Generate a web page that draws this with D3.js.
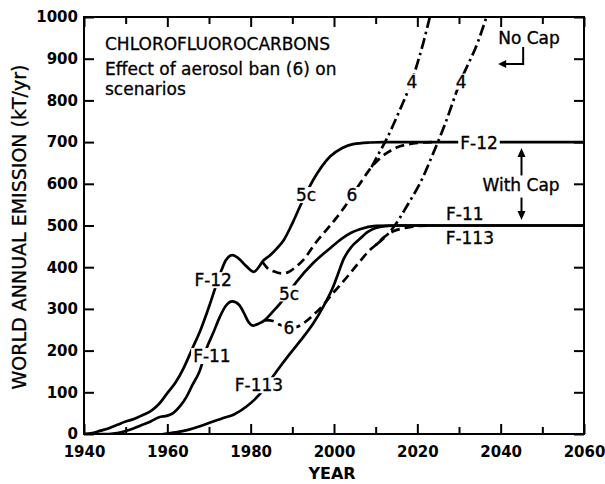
<!DOCTYPE html>
<html>
<head>
<meta charset="utf-8">
<script src="https://cdn.jsdelivr.net/npm/d3@7"></script>
<style>
  html, body { margin: 0; padding: 0; background: #fff; }
  svg { display: block; }
  text { font-family: "DejaVu Sans", "Liberation Sans", sans-serif; fill: #000; }
</style>
</head>
<body>
<svg id="chart" width="605" height="484"></svg>
<script>
// ---- Data: world annual emission, kT/yr, as [year, value] ----

// Scenario 5c, emissions capped (solid)
const f12Capped = [
  [1940, 0], [1942, 2], [1944, 8], [1946, 14], [1948, 22], [1950, 30], [1952, 36],
  [1954, 45], [1956, 55], [1958, 72], [1960, 98], [1962, 124], [1964, 160],
  [1966, 205], [1968, 250], [1970, 305], [1972, 365], [1973, 393], [1974, 416],
  [1975.6, 429], [1977, 422], [1979, 402], [1980.8, 389], [1982, 401], [1982.8, 413],
  [1984.6, 428], [1986.2, 444], [1988, 466], [1990, 505], [1991.8, 545], [1995, 609],
  [1999, 665], [2002, 686], [2004.6, 695], [2008.6, 699], [2012, 700], [2060, 700]
];
const f11Capped = [
  [1940, 0], [1946, 0], [1948, 2], [1950, 7], [1952, 14], [1954, 22], [1956, 30],
  [1958, 40], [1960, 44], [1961.4, 50], [1963, 66], [1964.6, 89], [1966, 117],
  [1967.8, 152], [1969.4, 205], [1971, 242], [1972.6, 281], [1974, 307], [1975.6, 318],
  [1977.2, 310], [1978.4, 290], [1979.4, 270], [1980.6, 260], [1982, 265], [1983.4, 273],
  [1985, 290], [1987, 312], [1989, 338], [1991, 365], [1995, 410], [1999, 445],
  [2001.8, 468], [2004, 482], [2006.2, 491], [2010, 499], [2014, 500], [2060, 500]
];
const f113Capped = [
  [1959, 0], [1962, 4], [1965, 10], [1968, 19], [1971, 30], [1974, 40], [1976, 47],
  [1979, 66], [1981, 83], [1983, 105], [1986.2, 150], [1989.4, 192], [1991.8, 222],
  [1995, 265], [1997.4, 305], [1999.8, 353], [2001, 385], [2002.2, 417], [2004.2, 449],
  [2006.2, 468], [2008, 484], [2010, 494], [2013, 499], [2016, 500], [2060, 500]
];

// Scenario 6, aerosol ban with cap (dashed)
const f12Ban = [
  [1982.8, 413], [1984, 398], [1985.5, 390], [1987.5, 385], [1989, 388], [1990.5, 398],
  [1992.6, 417], [1995.8, 461], [1999, 499], [2002, 537], [2004.2, 569], [2006.2, 600],
  [2009, 640], [2011, 661], [2013, 676], [2015, 687], [2017.4, 694], [2020, 698], [2024, 700]
];
const f11Ban = [
  [1983.4, 273], [1985.4, 271], [1987, 262], [1989, 256], [1991, 257], [1993, 268],
  [1995, 285], [1997.4, 309], [1999.5, 335], [2001.4, 356], [2004, 387], [2006.2, 414],
  [2008.5, 440], [2010, 453], [2012, 472], [2014.2, 486], [2017, 494], [2020, 499], [2024, 500]
];

// Scenario 4, no cap (dash-dot)
const f12NoCap = [
  [2009, 640], [2010.6, 670], [2012.4, 703], [2015.8, 777], [2018.6, 845],
  [2021.4, 937], [2023, 1000]
];
const f11NoCap = [
  [2010, 453], [2011.8, 468], [2014.6, 500], [2017.4, 545], [2021.4, 617],
  [2023.8, 673], [2026.6, 742], [2030.2, 842], [2034.6, 942], [2036.6, 1000]
];

// ---- Axes ----
const xMajorTicks = [1940, 1960, 1980, 2000, 2020, 2040, 2060];
const xMinorTicks = [1950, 1970, 1990, 2010, 2030, 2050];
const xTickLabels = ["1940", "1960", "1980", "2000", "2020", "2040", "2060"];
const yTicks = [0, 100, 200, 300, 400, 500, 600, 700, 800, 900, 1000];
const yTickLabels = ["0", "100", "200", "300", "400", "500", "600", "700", "800", "900", "1000"];

// ---- Curve labels (data coordinates) ----
const curveLabels = [
  { text: "F-12",  year: 1971.0, value: 369 },
  { text: "F-11",  year: 1970.7, value: 187 },
  { text: "F-113", year: 1982.0, value: 117 },
  { text: "5c",    year: 1993.3, value: 573 },
  { text: "6",     year: 2004.3, value: 573 },
  { text: "5c",    year: 1989.2, value: 337 },
  { text: "6",     year: 1989.2, value: 255 },
  { text: "4",     year: 2018.7, value: 845 },
  { text: "4",     year: 2030.5, value: 845 },
  { text: "F-12",  year: 2034.8, value: 697 },
  { text: "F-11",  year: 2031.4, value: 528 },
  { text: "F-113", year: 2032.6, value: 471 },
  { text: "With Cap", year: 2044.9, value: 597 },
  { text: "No Cap",   year: 2046.8, value: 951 }
];

const titleLines = ["CHLOROFLUOROCARBONS", "Effect of aerosol ban (6) on", "scenarios"];

// ---- Layout ----
const plot = { left: 84, right: 584, top: 17, bottom: 434 };
const svg = d3.select("#chart");

const x = d3.scaleLinear().domain([1940, 2060]).range([plot.left, plot.right]);
const y = d3.scaleLinear().domain([0, 1000]).range([plot.bottom, plot.top]);

svg.append("defs").append("clipPath").attr("id", "plotClip")
  .append("rect")
  .attr("x", plot.left).attr("y", plot.top)
  .attr("width", plot.right - plot.left).attr("height", plot.bottom - plot.top);

const line = d3.line()
  .x(d => x(d[0]))
  .y(d => y(d[1]))
  .curve(d3.curveMonotoneX);

const curves = svg.append("g").attr("clip-path", "url(#plotClip)")
  .attr("fill", "none").attr("stroke", "#000").attr("stroke-width", 2.7);

const series = [
  { data: f12NoCap, dash: "11,4,2.5,4" },
  { data: f11NoCap, dash: "11,4,2.5,4" },
  { data: f12Ban, dash: "9,5" },
  { data: f11Ban, dash: "9,5" },
  { data: f113Capped, dash: null },
  { data: f11Capped, dash: null },
  { data: f12Capped, dash: null }
];
curves.selectAll("path").data(series).join("path")
  .attr("d", d => line(d.data))
  .attr("stroke-dasharray", d => d.dash);

// Labels sit on the curves; a white box opens a gap in the line beneath
const labelSize = 17;
const labelGroup = svg.append("g");
const labelItems = labelGroup.selectAll("g").data(curveLabels).join("g");
const labelBoxes = labelItems.append("rect").attr("fill", "#fff");
const labelTexts = labelItems.append("text")
  .attr("x", d => x(d.year))
  .attr("y", d => y(d.value))
  .attr("dy", "0.36em")
  .attr("text-anchor", "middle")
  .attr("font-size", labelSize)
  .attr("stroke", "#000").attr("stroke-width", 0.35)
  .text(d => d.text);
labelTexts.each(function (d, i) {
  const b = this.getBBox();
  const yc = y(d.value);
  d3.select(labelBoxes.nodes()[i])
    .attr("x", b.x - 2).attr("width", b.width + 4)
    .attr("y", yc - 8).attr("height", 16);
});

// Cap range marker (double arrow between the two cap levels)
const arrows = svg.append("g").attr("stroke", "#000").attr("stroke-width", 2).attr("fill", "#000");
const capX = x(2045);
function head(xp, yp, dir) { // dir: -1 up, 1 down, "left"
  if (dir === "left") {
    return `M${xp},${yp} L${xp + 8},${yp - 4} L${xp + 8},${yp + 4} Z`;
  }
  return `M${xp},${yp} L${xp - 4},${yp - dir * 9} L${xp + 4},${yp - dir * 9} Z`;
}
arrows.append("line").attr("x1", capX).attr("x2", capX).attr("y1", y(686) + 6).attr("y2", y(620));
arrows.append("line").attr("x1", capX).attr("x2", capX).attr("y1", y(567)).attr("y2", y(513) - 6);
arrows.append("path").attr("stroke", "none").attr("d", head(capX, y(686), -1));
arrows.append("path").attr("stroke", "none").attr("d", head(capX, y(513), 1));

// "No Cap" pointer
const ncX = x(2045.4);
arrows.append("path").attr("fill", "none")
  .attr("d", `M${ncX},${y(928)} L${ncX},${y(887)} L${x(2039.4) + 6},${y(887)}`);
arrows.append("path").attr("stroke", "none").attr("d", head(x(2039.4), y(887), "left"));

// Title block
svg.append("g").selectAll("text").data(titleLines).join("text")
  .attr("x", 105)
  .attr("y", (d, i) => [50, 74.5, 95][i])
  .attr("font-size", 17)
  .attr("stroke", "#000").attr("stroke-width", 0.3)
  .text(d => d);

// ---- Axes and frame ----
const axisStyle = g => {
  g.select(".domain").remove();
  g.selectAll("line").attr("stroke", "#000").attr("stroke-width", 2);
  g.selectAll("text").attr("font-family", "DejaVu Sans, sans-serif")
    .attr("font-weight", "bold").attr("font-size", 15).attr("fill", "#000");
};

svg.append("g").attr("transform", `translate(0,${plot.bottom})`)
  .call(d3.axisBottom(x).tickValues(xMajorTicks)
    .tickFormat((d, i) => xTickLabels[i]).tickSizeInner(-10).tickSizeOuter(0).tickPadding(12))
  .call(axisStyle);
svg.append("g").attr("transform", `translate(0,${plot.bottom})`)
  .call(d3.axisBottom(x).tickValues(xMinorTicks).tickFormat("").tickSizeInner(-7).tickSizeOuter(0))
  .call(axisStyle);
svg.append("g").attr("transform", `translate(0,${plot.top})`)
  .call(d3.axisTop(x).tickValues(xMajorTicks).tickFormat("").tickSizeInner(-10).tickSizeOuter(0))
  .call(axisStyle);
svg.append("g").attr("transform", `translate(0,${plot.top})`)
  .call(d3.axisTop(x).tickValues(xMinorTicks).tickFormat("").tickSizeInner(-7).tickSizeOuter(0))
  .call(axisStyle);
svg.append("g").attr("transform", `translate(${plot.left},0)`)
  .call(d3.axisLeft(y).tickValues(yTicks)
    .tickFormat((d, i) => yTickLabels[i]).tickSizeInner(-10).tickSizeOuter(0).tickPadding(6))
  .call(axisStyle);
svg.append("g").attr("transform", `translate(${plot.right},0)`)
  .call(d3.axisRight(y).tickValues(yTicks).tickFormat("").tickSizeInner(-10).tickSizeOuter(0))
  .call(axisStyle);

svg.append("rect")
  .attr("x", plot.left).attr("y", plot.top)
  .attr("width", plot.right - plot.left).attr("height", plot.bottom - plot.top)
  .attr("fill", "none").attr("stroke", "#000").attr("stroke-width", 2);

// Axis titles
svg.append("text")
  .attr("x", (plot.left + plot.right) / 2 - 2).attr("y", 479)
  .attr("text-anchor", "middle").attr("font-size", 16).attr("font-weight", "bold")
  .text("YEAR");
svg.append("text")
  .attr("transform", `translate(26,${(64 + 390) / 2}) rotate(-90)`)
  .attr("text-anchor", "middle").attr("font-size", 19)
  .attr("stroke", "#000").attr("stroke-width", 0.3)
  .text("WORLD ANNUAL EMISSION (kT/yr)");
</script>
</body>
</html>
